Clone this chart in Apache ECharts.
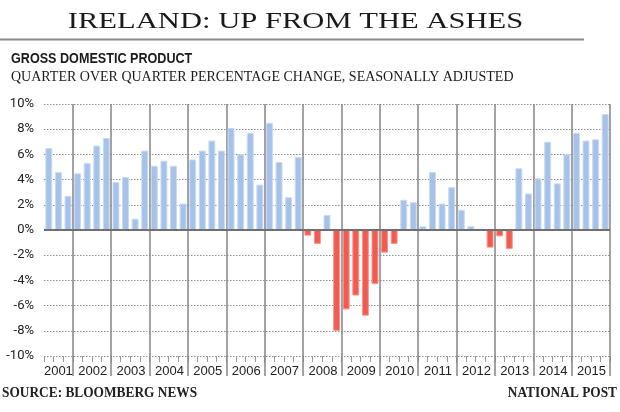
<!DOCTYPE html>
<html><head><meta charset="utf-8">
<script src="https://cdn.jsdelivr.net/npm/echarts@6/dist/echarts.min.js"></script>
<style>html,body{margin:0;padding:0;background:#fff}#c{width:620px;height:412px}</style>
</head><body><div id="c"></div>
<script>
const quarters = [
  '2001 Q2','2001 Q3','2001 Q4',
  '2002 Q1','2002 Q2','2002 Q3','2002 Q4',
  '2003 Q1','2003 Q2','2003 Q3','2003 Q4',
  '2004 Q1','2004 Q2','2004 Q3','2004 Q4',
  '2005 Q1','2005 Q2','2005 Q3','2005 Q4',
  '2006 Q1','2006 Q2','2006 Q3','2006 Q4',
  '2007 Q1','2007 Q2','2007 Q3','2007 Q4',
  '2008 Q1','2008 Q2','2008 Q3','2008 Q4',
  '2009 Q1','2009 Q2','2009 Q3','2009 Q4',
  '2010 Q1','2010 Q2','2010 Q3','2010 Q4',
  '2011 Q1','2011 Q2','2011 Q3','2011 Q4',
  '2012 Q1','2012 Q2','2012 Q3','2012 Q4',
  '2013 Q1','2013 Q2','2013 Q3','2013 Q4',
  '2014 Q1','2014 Q2','2014 Q3','2014 Q4',
  '2015 Q1','2015 Q2','2015 Q3','2015 Q4'
];
const gdpChange = [
  6.5, 4.6, 2.7,
  4.5, 5.3, 6.7, 7.3,
  3.8, 4.2, 0.9, 6.3,
  5.1, 5.5, 5.1, 2.1,
  5.6, 6.3, 7.1, 6.3,
  8.1, 6.0, 7.7, 3.6,
  8.5, 5.4, 2.6, 5.8,
  -0.45, -1.1, 1.2, -8.0,
  -6.3, -5.2, -6.8, -4.3,
  -1.8, -1.1, 2.4, 2.2,
  0.3, 4.6, 2.1, 3.4,
  1.6, 0.3, 0.1, -1.4,
  -0.5, -1.5, 4.9, 2.9,
  4.1, 7.0, 3.7, 6.0,
  7.7, 7.1, 7.2, 9.2
];
const yMin = -10, yMax = 10, yStep = 2;

const BLUE = '#a6c2e8', BLUE_EDGE = '#c8daf2';
const RED = '#f15b50', RED_EDGE = '#f6958d';
const YEAR_LINE = '#858585';

const isYearStart = (i, v) => String(v).endsWith('Q1');
const showYearLabel = (i, v) => v === '2001 Q3' || (String(v).endsWith('Q2') && !v.startsWith('2001'));

const chart = echarts.init(document.getElementById('c'), null, {renderer: 'canvas'});
chart.setOption({
  animation: false,
  backgroundColor: '#fff',
  grid: {left: 44, right: 10, top: 104, bottom: 56, containLabel: false},
  xAxis: [{
    type: 'category',
    data: quarters,
    position: 'bottom',
    boundaryGap: true,
    axisLine: {show: false, onZero: false},
    axisTick: {show: true, interval: 0, length: 6, lineStyle: {color: '#9a9a9a', width: 1}},
    axisLabel: {
      show: true,
      interval: showYearLabel,
      margin: 9,
      formatter: v => v === '2001 Q3' ? '{a|2001}' : '{b|' + v.slice(0, 4) + '}',
      rich: {
        a: {fontFamily: 'Liberation Sans', fontSize: 13, color: '#222'},
        b: {fontFamily: 'Liberation Sans', fontSize: 13, color: '#222', padding: [0, 0, 0, 11]}
      }
    },
    splitLine: {show: true, interval: isYearStart, lineStyle: {color: YEAR_LINE, width: 1.5, type: 'solid'}}
  }, {
    type: 'category',
    data: quarters,
    position: 'bottom',
    boundaryGap: true,
    axisLine: {show: false, onZero: false},
    axisTick: {show: true, interval: isYearStart, length: 20, lineStyle: {color: YEAR_LINE, width: 1.5}},
    axisLabel: {show: false},
    splitLine: {show: false}
  }],
  yAxis: {
    type: 'value',
    min: yMin, max: yMax, interval: yStep,
    axisLine: {show: false},
    axisTick: {show: false},
    axisLabel: {formatter: '{value}%', margin: 10, fontFamily: 'Roboto', fontSize: 13, color: '#222'},
    splitLine: {show: true, lineStyle: {color: '#8c8c8c', width: 1, type: [1.5, 1.5]}}
  },
  series: [{
    type: 'bar',
    xAxisIndex: 0,
    barCategoryGap: '28%',
    data: gdpChange.map(v => ({
      value: v,
      itemStyle: {color: v < 0 ? RED : BLUE, borderColor: v < 0 ? RED_EDGE : BLUE_EDGE, borderWidth: 1}
    })),
    markLine: {
      silent: true,
      symbol: ['none', 'none'],
      label: {show: false},
      lineStyle: {color: '#707070', width: 2, type: 'solid'},
      data: [{yAxis: 0}]
    }
  }],
  graphic: [
    {type: 'text', x: 295.5, y: 22, scaleX: 1.33, style: {text: 'IRELAND: UP FROM THE ASHES', x: 0, y: 0, align: 'center', verticalAlign: 'middle', font: '23px "Liberation Serif"', fill: '#1a1a1a'}},
    {type: 'line', shape: {x1: 0, y1: 39.5, x2: 584, y2: 39.5}, style: {stroke: '#8a8a8a', lineWidth: 2}},
    {type: 'text', x: 11, y: 59, scaleX: 0.84, style: {text: 'GROSS DOMESTIC PRODUCT', x: 0, y: 0, align: 'left', verticalAlign: 'middle', font: 'bold 15px "Liberation Sans"', fill: '#1a1a1a'}},
    {type: 'text', x: 11, y: 77.5, style: {text: 'QUARTER OVER QUARTER PERCENTAGE CHANGE, SEASONALLY ADJUSTED', x: 0, y: 0, align: 'left', verticalAlign: 'middle', font: '14px "Liberation Serif"', fill: '#1a1a1a'}},
    {type: 'text', x: 2, y: 393, scaleX: 0.89, style: {text: 'SOURCE: BLOOMBERG NEWS', x: 0, y: 0, align: 'left', verticalAlign: 'middle', font: 'bold 15px "Liberation Serif"', fill: '#222'}},
    {type: 'text', x: 617, y: 393, scaleX: 0.89, style: {text: 'NATIONAL POST', x: 0, y: 0, align: 'right', verticalAlign: 'middle', font: 'bold 15px "Liberation Serif"', fill: '#222'}}
  ]
});
</script>
</body></html>
